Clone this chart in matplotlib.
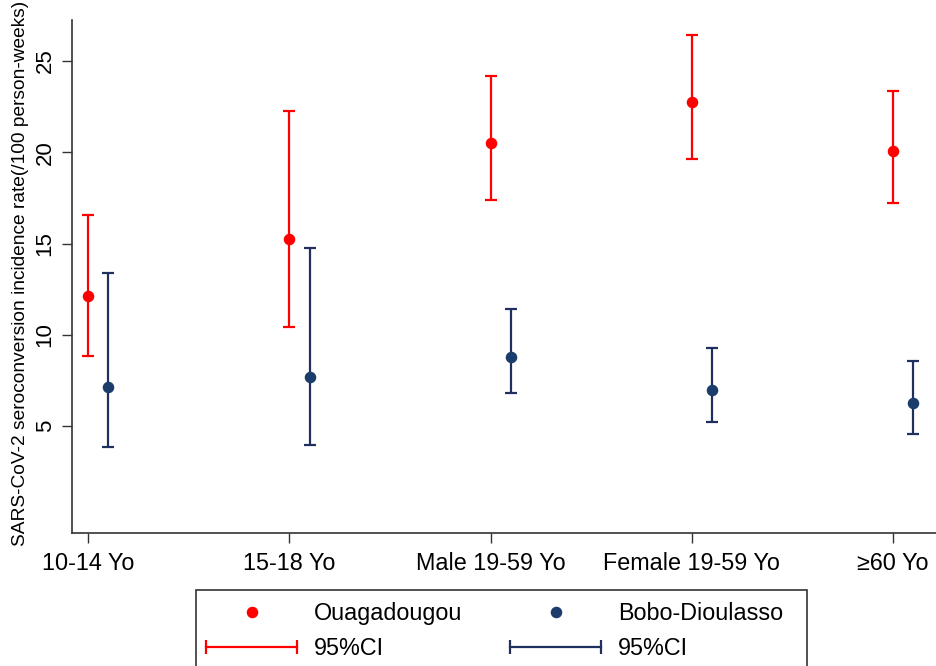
import matplotlib
matplotlib.use("Agg")
import matplotlib.pyplot as plt
import numpy as np
from matplotlib.lines import Line2D
from matplotlib.patches import Rectangle
from matplotlib.legend_handler import HandlerLine2D

plt.rcParams['font.family'] = ['Liberation Sans', 'DejaVu Sans']

categories = ["10-14 Yo", "15-18 Yo", "Male 19-59 Yo", "Female 19-59 Yo", "≥60 Yo"]
ouaga_rate = [12.13, 15.26, 20.53, 22.77, 20.07]
ouaga_low = [8.85, 10.45, 17.39, 19.63, 17.24]
ouaga_high = [16.57, 22.26, 24.20, 26.41, 23.36]
bobo_rate = [7.15, 7.67, 8.81, 6.97, 6.28]
bobo_low = [3.87, 3.98, 6.81, 5.20, 4.58]
bobo_high = [13.39, 14.73, 11.42, 9.29, 8.58]
yticks = [5, 10, 15, 20, 25]

RED = "#ff0000"
NAVY_M = "#1b3d6b"
NAVY_L = "#1f2f5e"

W, H = 936, 666
fig = plt.figure(figsize=(W / 100, H / 100), dpi=100)
L, R, B, T = 72.3, 936, 533, 20
ax = fig.add_axes([L / W, 1 - B / H, (R - L) / W, (B - T) / H])

x = np.arange(len(categories))
off = 0.1

def draw(xpos, rate, low, high, mcol, lcol):
    rate = np.array(rate); low = np.array(low); high = np.array(high)
    ax.errorbar(xpos, rate, yerr=[rate - low, high - rate], fmt='none',
                ecolor=lcol, elinewidth=1.6, capsize=4.5, capthick=1.6, zorder=2)
    ax.plot(xpos, rate, 'o', color=mcol, markersize=7.3, zorder=3)

draw(x, ouaga_rate, ouaga_low, ouaga_high, RED, RED)
draw(x + off, bobo_rate, bobo_low, bobo_high, NAVY_M, NAVY_L)

ax.set_xlim(-0.08, (R - 88.3) / 201.1)
ax.set_ylim(-0.86, 27.25)
ax.set_xticks(x)
ax.set_xticklabels(categories, fontsize=16.8)
ax.set_yticks(yticks)
ax.set_yticklabels([str(v) for v in yticks], fontsize=16, rotation=90, va='center')

for s in ['top', 'right']:
    ax.spines[s].set_visible(False)
for s in ['left', 'bottom']:
    ax.spines[s].set_color('#333333')
    ax.spines[s].set_linewidth(1.2)
ax.tick_params(axis='both', length=7, width=1.0, color='#333333')
ax.tick_params(axis='x', pad=7)
ax.tick_params(axis='y', pad=5)

fig.text(21 / W, 1 - 273 / H,
         "SARS-CoV-2 seroconversion incidence rate(/100 person-weeks)",
         rotation=90, ha='center', va='center', fontsize=13.8)

h1 = Line2D([], [], marker='o', linestyle='none', color=RED, markersize=7.3)
h2 = Line2D([], [], marker='o', linestyle='none', color=NAVY_M, markersize=7.3)
h3 = Line2D([0, 1], [0, 0], marker='|', color=RED, lw=1.6, markersize=10, markeredgewidth=1.6)
h4 = Line2D([0, 1], [0, 0], marker='|', color=NAVY_L, lw=1.6, markersize=10, markeredgewidth=1.6)

leg = fig.legend([h1, h3, h2, h4], ["Ouagadougou", "95%CI", "Bobo-Dioulasso", "95%CI"],
                 ncol=2, loc='upper left', bbox_to_anchor=(199 / W, 1 - 602 / H),
                 fontsize=16.8, frameon=False,
                 handlelength=4.5, handletextpad=0.42, columnspacing=1.75,
                 labelspacing=0.5, borderpad=0.0, borderaxespad=0,
                 handler_map={h3: HandlerLine2D(numpoints=2), h4: HandlerLine2D(numpoints=2)},
                 numpoints=1)

frame = Rectangle((196 / W, 1 - 672 / H), (807 - 196) / W, (672 - 590) / H,
                  transform=fig.transFigure, fill=False, edgecolor='#333333',
                  linewidth=1.2)
fig.add_artist(frame)

fig.savefig("out.png", dpi=100)
